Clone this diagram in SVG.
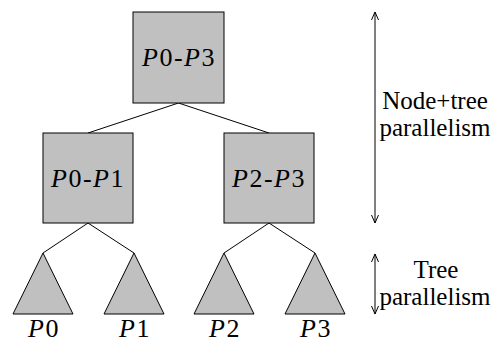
<svg xmlns="http://www.w3.org/2000/svg" width="493" height="342" viewBox="0 0 493 342">
<style>
svg text, svg tspan { font-family: 'Liberation Serif', 'DejaVu Serif', serif !important; }
.box { fill: #c0c0c0; stroke: #000; stroke-width: 1; }
.lbl { font-size: 26px; text-anchor: middle; letter-spacing: 1.5px; fill: #000; }
.side { font-size: 25px; text-anchor: middle; fill: #000; }
</style>
<defs>
<marker id="ah" viewBox="0 0 10 10" refX="10" refY="5" markerWidth="10" markerHeight="10" markerUnits="userSpaceOnUse" orient="auto-start-reverse">
<path d="M2,1.5 L10,5 L2,8.5" fill="none" stroke="#000" stroke-width="1"/>
</marker>
</defs>
<rect width="493" height="342" fill="#fff"/>
<g id="connectors" fill="none" stroke="#000" stroke-width="1">
<line x1="178.5" y1="103" x2="88" y2="133"/>
<line x1="178.5" y1="103" x2="269" y2="133"/>
<line x1="88" y1="223" x2="43" y2="253"/>
<line x1="88" y1="223" x2="134" y2="253"/>
<line x1="269" y1="223" x2="224" y2="253"/>
<line x1="269" y1="223" x2="315" y2="253"/>
</g>
<g id="n-p0p3">
<rect class="box" x="133" y="12" width="91" height="91"/>
<text class="lbl" x="179" y="66" style="font-family:'Liberation Serif',serif !important"><tspan font-style="italic">P</tspan>0-<tspan font-style="italic">P</tspan>3</text>
</g>
<g id="n-p0p1">
<rect class="box" x="43" y="133" width="90" height="90"/>
<text class="lbl" x="88" y="187" style="font-family:'Liberation Serif',serif !important"><tspan font-style="italic">P</tspan>0-<tspan font-style="italic">P</tspan>1</text>
</g>
<g id="n-p2p3">
<rect class="box" x="224" y="133" width="90" height="90"/>
<text class="lbl" x="269" y="187" style="font-family:'Liberation Serif',serif !important"><tspan font-style="italic">P</tspan>2-<tspan font-style="italic">P</tspan>3</text>
</g>
<g id="t-p0">
<polygon class="box" points="43,253 13,314 73,314"/>
<text class="lbl" x="44" y="337" style="font-family:'Liberation Serif',serif !important"><tspan font-style="italic">P</tspan>0</text>
</g>
<g id="t-p1">
<polygon class="box" points="134,253 104,314 164,314"/>
<text class="lbl" x="135" y="337" style="font-family:'Liberation Serif',serif !important"><tspan font-style="italic">P</tspan>1</text>
</g>
<g id="t-p2">
<polygon class="box" points="224,253 194,314 254,314"/>
<text class="lbl" x="225" y="337" style="font-family:'Liberation Serif',serif !important"><tspan font-style="italic">P</tspan>2</text>
</g>
<g id="t-p3">
<polygon class="box" points="315,253 285,314 345,314"/>
<text class="lbl" x="316" y="337" style="font-family:'Liberation Serif',serif !important"><tspan font-style="italic">P</tspan>3</text>
</g>
<g id="dim-node-tree">
<line x1="375" y1="223" x2="375" y2="12" stroke="#000" marker-start="url(#ah)" marker-end="url(#ah)"/>
<text class="side" x="435" y="109" style="font-family:'Liberation Serif',serif !important">Node+tree</text>
<text class="side" x="435" y="136" style="font-family:'Liberation Serif',serif !important">parallelism</text>
</g>
<g id="dim-tree">
<line x1="375" y1="314" x2="375" y2="254" stroke="#000" marker-start="url(#ah)" marker-end="url(#ah)"/>
<text class="side" x="436" y="278" style="font-family:'Liberation Serif',serif !important">Tree</text>
<text class="side" x="435" y="305" style="font-family:'Liberation Serif',serif !important">parallelism</text>
</g>
</svg>
